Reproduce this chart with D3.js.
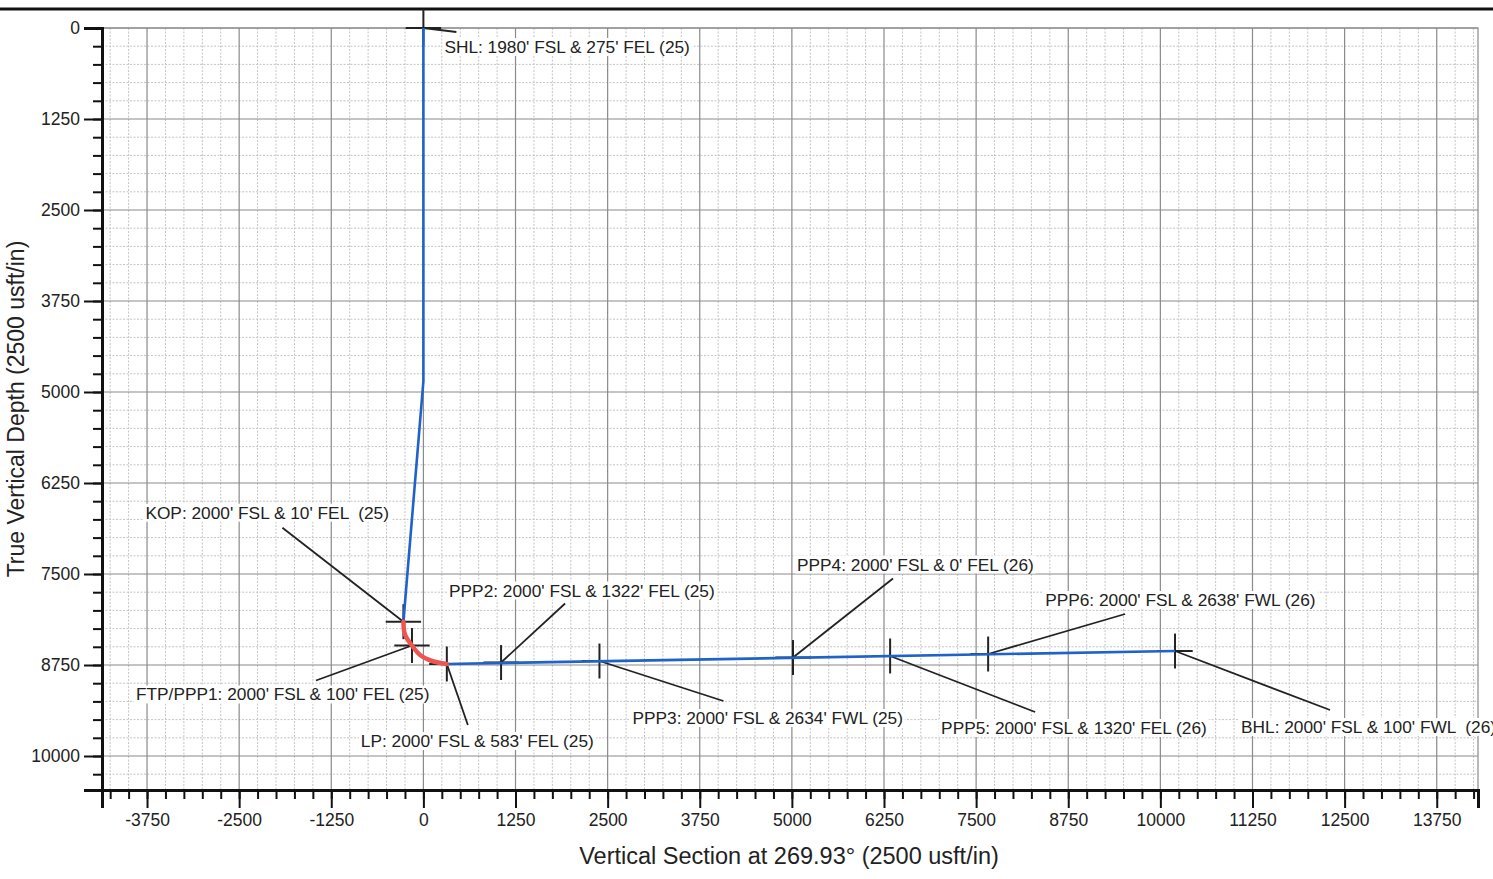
<!DOCTYPE html>
<html>
<head>
<meta charset="utf-8">
<script src="https://cdn.jsdelivr.net/npm/d3@7"></script>
<style>
  body { margin: 0; background: #fff; }
  svg { display: block; font-family: "Liberation Sans", Arial, sans-serif; }
</style>
</head>
<body>
<svg id="chart" width="1493" height="879"></svg>
<script>
// well path pieces (vertical section, tvd)
const verticalPath = [[0, 0], [0, 4850], [-271, 8155]];
const buildCurve = [[-271, 8155], [-250, 8330], [-155, 8482], [-45, 8613], [118, 8695], [318, 8736]];
const lateralPath = [[318, 8736], [10199, 8558]];

// points of interest
const markerNames = ["SHL", "KOP", "FTP/PPP1", "LP", "PPP2", "PPP3", "PPP4", "PPP5", "PPP6", "BHL"];
const markerVS = [0, -271, -155, 318, 1054, 2389, 5015, 6333, 7663, 10199];
const markerTVD = [0, 8155, 8482, 8736, 8716, 8695, 8647, 8626, 8599, 8558];
const markerLabels = [
  "SHL: 1980' FSL & 275' FEL (25)",
  "KOP: 2000' FSL & 10' FEL  (25)",
  "FTP/PPP1: 2000' FSL & 100' FEL (25)",
  "LP: 2000' FSL & 583' FEL (25)",
  "PPP2: 2000' FSL & 1322' FEL (25)",
  "PPP3: 2000' FSL & 2634' FWL (25)",
  "PPP4: 2000' FSL & 0' FEL (26)",
  "PPP5: 2000' FSL & 1320' FEL (26)",
  "PPP6: 2000' FSL & 2638' FWL (26)",
  "BHL: 2000' FSL & 100' FWL  (26)"
];

const xTickLabels = [-3750, -2500, -1250, 0, 1250, 2500, 3750, 5000, 6250, 7500, 8750, 10000, 11250, 12500, 13750];
const yTickLabels = [0, 1250, 2500, 3750, 5000, 6250, 7500, 8750, 10000];

// label layout, pixel offsets from each marker: leader end, text start
const leaderOffsets = [[33, 4], [-121, -94], [-96, 35], [21, 61], [64, -59], [124, 40], [100, -79], [145, 56], [137, -40], [155, 59]];
const textOffsets = [[21, 25], [-258, -103], [-276, 55], [-86, 83], [-52, -66], [33, 63], [4, -87], [51, 78], [57, -48], [66, 82]];

const svg = d3.select('#chart');
const plotL = 102, plotR = 1478, plotT = 28, plotB = 790;

const x = d3.scaleLinear().domain([-4361, 14310]).range([plotL, plotR]);
const y = d3.scaleLinear().domain([0, 10467]).range([plotT, plotB]);

const minorX = d3.range(-4250, 14310, 250);
const minorY = d3.range(250, 10467, 250);

// page top rule
svg.append('line').attr('x1', 0).attr('x2', 1493).attr('y1', 9).attr('y2', 9)
  .attr('stroke', '#111').attr('stroke-width', 3);

// grid
const grid = svg.append('g');
grid.selectAll('.vminor').data(minorX.filter(d => d % 1250 !== 0)).join('line')
  .attr('x1', d => x(d)).attr('x2', d => x(d)).attr('y1', plotT).attr('y2', plotB)
  .attr('stroke', '#c4c4c4').attr('stroke-width', 1).attr('stroke-dasharray', '2,1.5');
grid.selectAll('.hminor').data(minorY.filter(d => d % 1250 !== 0)).join('line')
  .attr('x1', plotL).attr('x2', plotR).attr('y1', d => y(d)).attr('y2', d => y(d))
  .attr('stroke', '#c4c4c4').attr('stroke-width', 1).attr('stroke-dasharray', '2,1.5');
grid.selectAll('.vmajor').data(xTickLabels).join('line')
  .attr('x1', d => x(d)).attr('x2', d => x(d)).attr('y1', plotT).attr('y2', plotB)
  .attr('stroke', '#8a8a8a').attr('stroke-width', 1.2);
grid.selectAll('.hmajor').data(yTickLabels).join('line')
  .attr('x1', plotL).attr('x2', plotR).attr('y1', d => y(d)).attr('y2', d => y(d))
  .attr('stroke', '#8a8a8a').attr('stroke-width', 1.2);
// frame
svg.append('rect').attr('x', plotL).attr('y', plotT).attr('width', plotR - plotL).attr('height', plotB - plotT)
  .attr('fill', 'none').attr('stroke', '#8a8a8a').attr('stroke-width', 1.2);

// axes
const fmt = d => String(d);
const xMinorAxis = d3.axisBottom(x).tickValues(minorX).tickSize(9).tickFormat('');
const xMajorAxis = d3.axisBottom(x).tickValues(xTickLabels).tickSize(18).tickPadding(6).tickFormat(fmt);
const yMinorAxis = d3.axisLeft(y).tickValues(minorY).tickSize(9).tickFormat('');
const yMajorAxis = d3.axisLeft(y).tickValues(yTickLabels).tickSize(18).tickPadding(4).tickFormat(fmt);

[xMinorAxis, xMajorAxis].forEach(ax => {
  svg.append('g').attr('transform', `translate(0,${plotB})`).call(ax);
});
[yMinorAxis, yMajorAxis].forEach(ax => {
  svg.append('g').attr('transform', `translate(${plotL},0)`).call(ax);
});
svg.selectAll('.domain').attr('stroke', '#111').attr('stroke-width', 3);
svg.selectAll('.tick line').attr('stroke', '#111').attr('stroke-width', 2);
svg.selectAll('.tick text').attr('fill', '#222').style('font-size', '17.5px')
  .style('font-family', '"Liberation Sans", Arial, sans-serif');

// axis titles
svg.append('text').attr('x', 789).attr('y', 864).attr('text-anchor', 'middle')
  .style('font-size', '23.5px').attr('fill', '#222')
  .text('Vertical Section at 269.93\u00b0 (2500 usft/in)');
svg.append('text').attr('transform', 'translate(24,409) rotate(-90)').attr('text-anchor', 'middle')
  .style('font-size', '23px').attr('fill', '#222')
  .text('True Vertical Depth (2500 usft/in)');

// markers, leaders
const markers = markerNames.map((name, i) => ({
  name, vs: markerVS[i], tvd: markerTVD[i], label: markerLabels[i],
  leader: leaderOffsets[i], text: textOffsets[i]
}));

const ann = svg.append('g');
markers.forEach(m => {
  const mx = x(m.vs), my = y(m.tvd);
  const armX = x(m.vs + 240) - mx, armY = y(m.tvd + 240) - my;
  ann.append('line').attr('x1', mx - armX).attr('x2', mx + armX).attr('y1', my).attr('y2', my)
    .attr('stroke', '#222').attr('stroke-width', 2);
  ann.append('line').attr('x1', mx).attr('x2', mx).attr('y1', m.name === 'SHL' ? 9 : my - armY).attr('y2', my + armY)
    .attr('stroke', '#222').attr('stroke-width', 2);
  ann.append('line').attr('x1', mx).attr('y1', my)
    .attr('x2', mx + m.leader[0]).attr('y2', my + m.leader[1])
    .attr('stroke', '#222').attr('stroke-width', 1.8);
});

// well path on top of the marker arms
const line = d3.line().x(d => x(d[0])).y(d => y(d[1]));
svg.append('path').attr('d', line(verticalPath)).attr('fill', 'none')
  .attr('stroke', '#1f62c9').attr('stroke-width', 2.6);
svg.append('path').attr('d', line(lateralPath)).attr('fill', 'none')
  .attr('stroke', '#1f62c9').attr('stroke-width', 2.6);
svg.append('path').attr('d', d3.line().curve(d3.curveCatmullRom).x(d => x(d[0])).y(d => y(d[1]))(buildCurve))
  .attr('fill', 'none').attr('stroke', '#ee5550').attr('stroke-width', 4.5).attr('stroke-linecap', 'round');

// labels
const lab = svg.append('g');
markers.forEach(m => {
  const mx = x(m.vs), my = y(m.tvd);
  const g = lab.append('g');
  const t = g.append('text').attr('x', mx + m.text[0]).attr('y', my + m.text[1])
    .style('font-size', '17.3px').attr('fill', '#222')
    .style('white-space', 'pre').text(m.label);
  const b = t.node().getBBox();
  g.insert('rect', 'text').attr('x', b.x - 2).attr('y', b.y + 1).attr('width', b.width + 4).attr('height', b.height - 2)
    .attr('fill', '#fff');
});
</script>
</body>
</html>
